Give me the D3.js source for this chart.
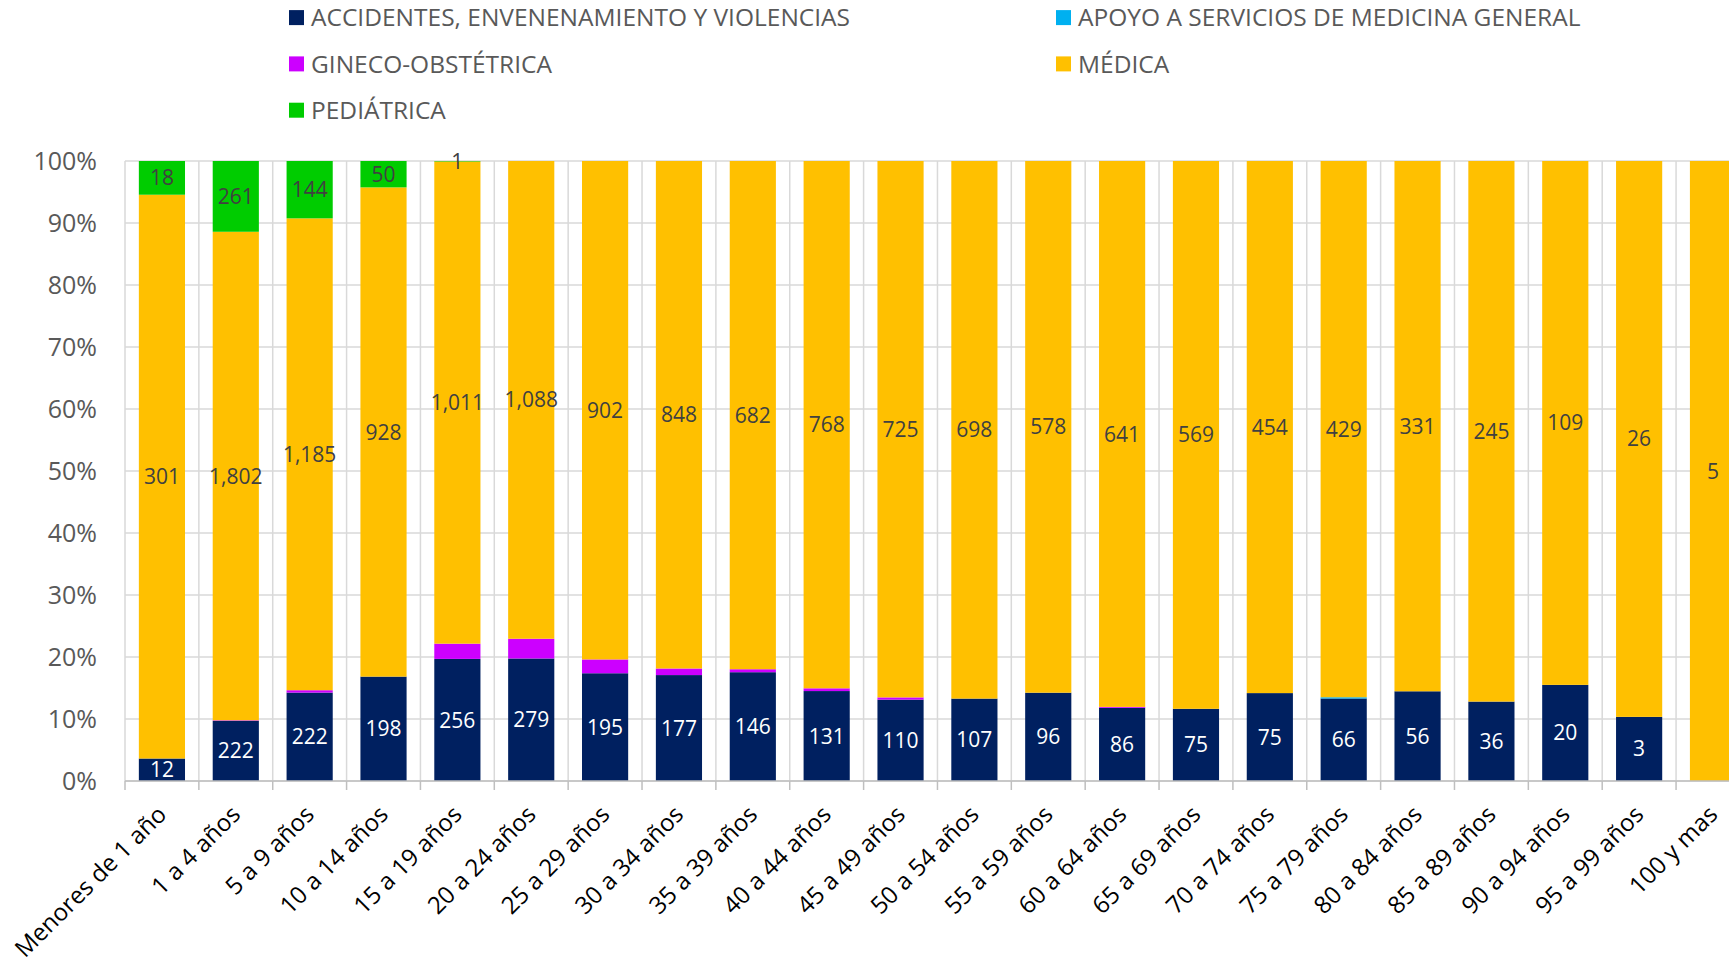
<!DOCTYPE html>
<meta charset="utf-8">
<script src="https://cdn.jsdelivr.net/npm/d3@7"></script>
<style>
  body { margin: 0; background: #fff; }
  text { font-family: "Open Sans", sans-serif; }
</style>
<div id="chart"></div>
<script>

// age groups
var categories = ["Menores de 1 año", "1 a 4 años", "5 a 9 años", "10 a 14 años", "15 a 19 años",
  "20 a 24 años", "25 a 29 años", "30 a 34 años", "35 a 39 años", "40 a 44 años", "45 a 49 años",
  "50 a 54 años", "55 a 59 años", "60 a 64 años", "65 a 69 años", "70 a 74 años", "75 a 79 años",
  "80 a 84 años", "85 a 89 años", "90 a 94 años", "95 a 99 años", "100 y mas"]

// counts per series (bottom to top of the stack)
var accidentes = [12, 222, 222, 198, 256, 279, 195, 177, 146, 131, 110, 107, 96, 86, 75, 75, 66, 56, 36, 20, 3, 0]
var apoyo      = [0, 0, 0, 0, 0, 0, 0, 0, 0, 0, 0, 0, 0, 0, 0, 0, 1, 0, 0, 0, 0, 0]
var gineco     = [0, 2, 6, 0, 32, 45, 25, 11, 4, 4, 3, 0, 0, 1, 0, 0, 0, 0, 0, 0, 0, 0]
var medica     = [301, 1802, 1185, 928, 1011, 1088, 902, 848, 682, 768, 725, 698, 578, 641, 569, 454, 429, 331, 245, 109, 26, 5]
var pediatrica = [18, 261, 144, 50, 1, 0, 0, 0, 0, 0, 0, 0, 0, 0, 0, 0, 0, 0, 0, 0, 0, 0]

var seriesNames = ["ACCIDENTES, ENVENENAMIENTO Y VIOLENCIAS", "APOYO A SERVICIOS DE MEDICINA GENERAL",
  "GINECO-OBSTÉTRICA", "MÉDICA", "PEDIÁTRICA"]
var seriesValues = [accidentes, apoyo, gineco, medica, pediatrica]
var colors = ["#002060", "#00B0F0", "#CC00FF", "#FFC000", "#00CC00"]
var labelColors = ["#ffffff", null, null, "#404040", "#404040"]   // null = no data labels

var yTicks = [0, 0.1, 0.2, 0.3, 0.4, 0.5, 0.6, 0.7, 0.8, 0.9, 1]

var W = 1729, H = 966
var plotLeft = 125, plotTop = 161, plotBottom = 781

var svg = d3.select("#chart").append("svg")
  .attr("width", W).attr("height", H)

var x = d3.scaleBand()
  .domain(categories)
  .range([plotLeft, plotLeft + 22 * 73.86])
  .paddingInner(0.375)
  .paddingOuter(0.1875)

var y = d3.scaleLinear().domain([0, 1]).range([plotBottom, plotTop])

// table for the stack, one row per category, as shares of the total
var rows = categories.map(function(c, i) {
  var r = {cat: c}
  var total = d3.sum(seriesValues, function(s) { return s[i] })
  seriesNames.forEach(function(n, k) { r[n] = seriesValues[k][i] / total; r[n + "_n"] = seriesValues[k][i] })
  return r
})
var stacked = d3.stack().keys(seriesNames)(rows)

// horizontal gridlines
svg.append("g").selectAll("line")
  .data(yTicks).enter().append("line")
  .attr("x1", plotLeft).attr("x2", W)
  .attr("y1", function(d) { return y(d) }).attr("y2", function(d) { return y(d) })
  .attr("stroke", "#d9d9d9").attr("stroke-width", 1.5)

// vertical gridlines at category boundaries
var bounds = categories.map(function(c) { return x(c) - x.step() * x.paddingOuter() })
svg.append("g").selectAll("line")
  .data(bounds).enter().append("line")
  .attr("x1", function(d) { return d }).attr("x2", function(d) { return d })
  .attr("y1", plotTop).attr("y2", plotBottom)
  .attr("stroke", "#d9d9d9").attr("stroke-width", 1.5)

// y tick labels
svg.append("g").selectAll("text")
  .data(yTicks).enter().append("text")
  .attr("x", 97).attr("y", function(d) { return y(d) })
  .attr("dy", "0.36em")
  .attr("text-anchor", "end")
  .style("font-size", "25px").style("fill", "#595959")
  .text(d3.format(".0%"))

// bars
svg.append("g").selectAll("g")
  .data(stacked).enter().append("g")
  .attr("fill", function(d, k) { return colors[k] })
  .selectAll("rect")
  .data(function(d) { return d }).enter().append("rect")
  .attr("x", function(d) { return x(d.data.cat) })
  .attr("width", x.bandwidth())
  .attr("y", function(d) { return y(d[1]) })
  .attr("height", function(d) { return y(d[0]) - y(d[1]) })

// data labels
stacked.forEach(function(s, k) {
  if (!labelColors[k]) return
  svg.append("g").selectAll("text")
    .data(s.filter(function(d) { return d.data[s.key + "_n"] > 0 }))
    .enter().append("text")
    .attr("x", function(d) { return x(d.data.cat) + x.bandwidth() / 2 })
    .attr("y", function(d) { return y((d[0] + d[1]) / 2) })
    .attr("dy", "0.36em")
    .attr("text-anchor", "middle")
    .style("font-size", "21px").style("fill", labelColors[k])
    .text(function(d) { return d3.format(",")(d.data[s.key + "_n"]) })
})

// x axis line and boundary ticks
svg.append("line")
  .attr("x1", plotLeft).attr("x2", W).attr("y1", plotBottom).attr("y2", plotBottom)
  .attr("stroke", "#bfbfbf").attr("stroke-width", 1.5)
svg.append("g").selectAll("line")
  .data(bounds).enter().append("line")
  .attr("x1", function(d) { return d }).attr("x2", function(d) { return d })
  .attr("y1", plotBottom).attr("y2", plotBottom + 9)
  .attr("stroke", "#bfbfbf").attr("stroke-width", 1.5)

// x labels, rotated
svg.append("g").selectAll("text")
  .data(categories).enter().append("text")
  .attr("transform", function(d) {
    return "translate(" + (x(d) + x.bandwidth() / 2 + 6) + "," + (plotBottom + 35) + ") rotate(-45)"
  })
  .attr("text-anchor", "end")
  .style("font-size", "24px").style("fill", "#000")
  .text(function(d) { return d })

// legend, two columns
var legend = svg.append("g").selectAll("g")
  .data(seriesNames).enter().append("g")
  .attr("transform", function(d, i) {
    return "translate(" + (i % 2 ? 1056 : 289) + "," + (17.6 + Math.floor(i / 2) * 46.3) + ")"
  })
legend.append("rect")
  .attr("x", 0).attr("y", -7.5).attr("width", 15).attr("height", 15)
  .attr("fill", function(d, i) { return colors[i] })
legend.append("text")
  .attr("x", 22).attr("dy", "0.36em")
  .style("font-size", "24.5px").style("fill", "#595959")
  .text(function(d) { return d })

</script>
